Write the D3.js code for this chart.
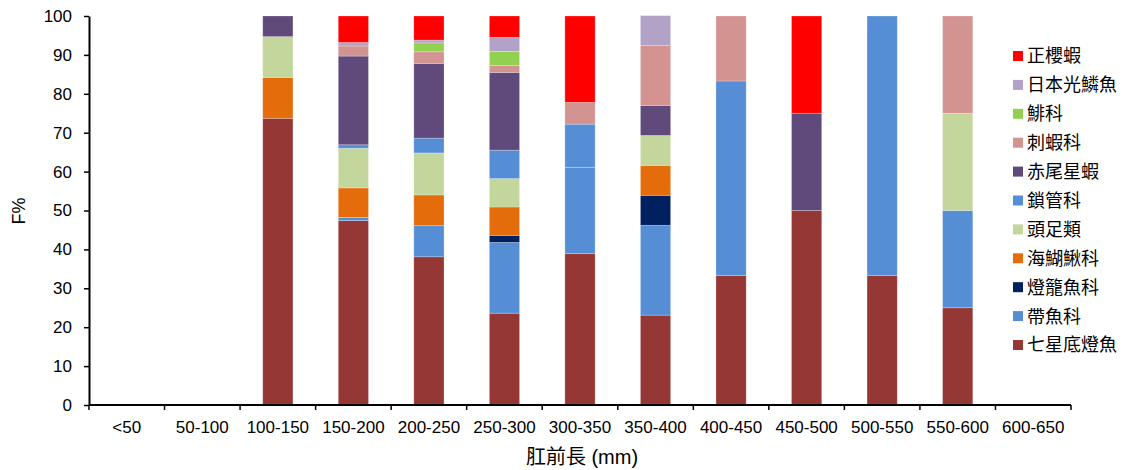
<!DOCTYPE html>
<html>
<head>
<meta charset="utf-8">
<script src="https://cdn.jsdelivr.net/npm/d3@7"></script>
<style>
  html, body { margin: 0; padding: 0; background: #fff; }
  svg { display: block; }
  text { font-family: "Liberation Sans", Arial, "Noto Sans CJK TC", sans-serif; fill: #000; }
</style>
</head>
<body>
<svg id="chart" width="1124" height="470"></svg>
<script>
const categories = ["<50","50-100","100-150","150-200","200-250","250-300","300-350","350-400","400-450","450-500","500-550","550-600","600-650"];
const seriesNames = ["七星底燈魚","帶魚科","燈籠魚科","海鰗鰍科","頭足類","鎖管科","赤尾星蝦","刺蝦科","鯡科","日本光鱗魚","正櫻蝦"];
const s七星底燈魚 = [0,0,73.7,47.4,38.1,23.6,38.9,23.1,33.3,50,33.3,25,0];
const s帶魚科     = [0,0,0,0.8,8.0,18.2,22.2,23.1,50,0,66.7,25,0];
const s燈籠魚科   = [0,0,0,0,0,1.8,0,7.7,0,0,0,0,0];
const s海鰗鰍科   = [0,0,10.5,7.6,7.9,7.3,0,7.7,0,0,0,0,0];
const s頭足類     = [0,0,10.5,10.2,10.8,7.3,0,7.7,0,0,0,25,0];
const s鎖管科     = [0,0,0,0.9,3.8,7.3,11.1,0,0,0,0,0,0];
const s赤尾星蝦   = [0,0,5.3,22.8,19.2,20.0,0,7.7,0,25,0,0,0];
const s刺蝦科     = [0,0,0,2.6,3.0,1.8,5.6,15.4,16.7,0,0,25,0];
const s鯡科       = [0,0,0,0,2.3,3.6,0,0,0,0,0,0,0];
const s日本光鱗魚 = [0,0,0,0.9,0.7,3.6,0,7.7,0,0,0,0,0];
const s正櫻蝦     = [0,0,0,6.8,6.2,5.5,22.2,0,0,25,0,0,0];
const seriesValues = [s七星底燈魚,s帶魚科,s燈籠魚科,s海鰗鰍科,s頭足類,s鎖管科,s赤尾星蝦,s刺蝦科,s鯡科,s日本光鱗魚,s正櫻蝦];
const colors = ["#953735","#558ED5","#002060","#E46C0A","#C3D69B","#558ED5","#604A7B","#D39391","#92D050","#B3A2C7","#FF0000"];
const yTicks = [0,10,20,30,40,50,60,70,80,90,100];

const table = categories.map((c, i) => {
  const row = { cat: c };
  seriesNames.forEach((n, j) => row[n] = seriesValues[j][i]);
  return row;
});

const svg = d3.select("#chart");
const mLeft = 89, mRight = 1071, mTop = 16, mBottom = 405;

const x = d3.scaleBand().domain(categories).range([mLeft, mRight]).paddingInner(0.6).paddingOuter(0.3);
const y = d3.scaleLinear().domain([0, 100]).range([mBottom, mTop]);
const color = d3.scaleOrdinal().domain(seriesNames).range(colors);

const stacked = d3.stack().keys(seriesNames)(table);

svg.append("g").selectAll("g")
  .data(stacked).join("g")
  .attr("fill", d => color(d.key))
  .selectAll("rect")
  .data(d => d.filter(p => p[1] - p[0] > 0))
  .join("rect")
  .attr("x", d => x(d.data.cat))
  .attr("width", x.bandwidth())
  .attr("y", d => y(d[1]))
  .attr("height", d => y(d[0]) - y(d[1]))
  .attr("stroke", "#fff")
  .attr("stroke-opacity", 0.3)
  .attr("stroke-width", 0.8);

// Y axis
const yAxis = svg.append("g").attr("transform", `translate(${mLeft},0)`)
  .call(d3.axisLeft(y).tickValues(yTicks).tickSize(5).tickPadding(12).tickSizeOuter(0));
yAxis.select(".domain").attr("stroke", "#000").attr("stroke-width", 2);
yAxis.selectAll(".tick line").attr("stroke", "#000").attr("stroke-width", 1.5);
yAxis.selectAll("text").style("font-size", "17px").attr("font-family", null);

// X axis labels
const xAxis = svg.append("g").attr("transform", `translate(0,${mBottom})`)
  .call(d3.axisBottom(x).tickSize(0).tickPadding(16).tickSizeOuter(0));
xAxis.select(".domain").remove();
xAxis.selectAll("text").style("font-size", "17px").attr("font-family", null);
// X axis line and boundary ticks
const step = x.step();
const x0 = x(categories[0]) - x.paddingOuter() * step;
svg.append("line").attr("x1", mLeft).attr("x2", mRight).attr("y1", mBottom).attr("y2", mBottom)
  .attr("stroke", "#000").attr("stroke-width", 2);
svg.append("g").selectAll("line")
  .data(d3.range(categories.length + 1)).join("line")
  .attr("x1", i => x0 + i * step).attr("x2", i => x0 + i * step)
  .attr("y1", mBottom).attr("y2", mBottom + 5)
  .attr("stroke", "#000").attr("stroke-width", 1.5);

// Axis titles
svg.append("text").attr("x", 582).attr("y", 464).attr("text-anchor", "middle")
  .style("font-size", "20px").text("肛前長 (mm)");
svg.append("text").attr("transform", "translate(25,211) rotate(-90)").attr("text-anchor", "middle")
  .style("font-size", "18px").text("F%");

// Legend (reverse order)
const legendItems = seriesNames.slice().reverse();
const lg = svg.append("g").selectAll("g").data(legendItems).join("g")
  .attr("transform", (d, i) => `translate(1013,${56 + i * 28.9})`);
lg.append("rect").attr("x", 0).attr("y", -5).attr("width", 10).attr("height", 10).attr("fill", d => color(d));
lg.append("text").attr("x", 14).attr("y", 0).attr("dy", "0.36em").style("font-size", "18px").text(d => d);
</script>
</body>
</html>
